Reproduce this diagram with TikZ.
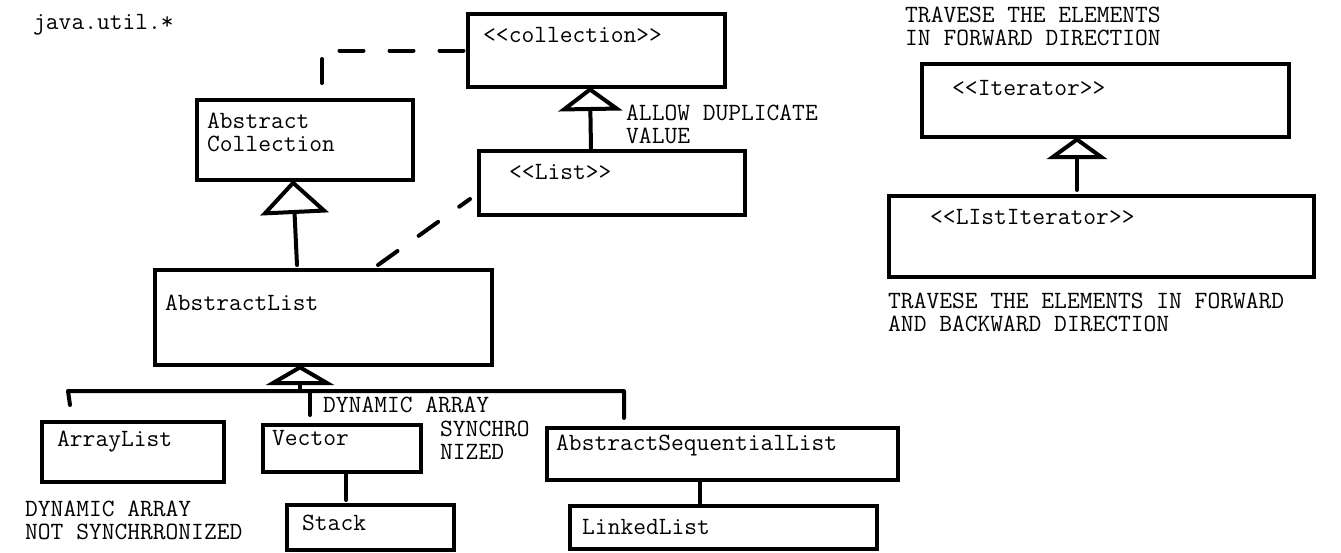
\documentclass[tikz,border=0pt]{standalone}
\usetikzlibrary{arrows.meta}
\usetikzlibrary{positioning}

\tikzset{
  box/.style={draw,line width=4pt,rectangle,inner sep=0pt,anchor=north west},
  txt/.style={anchor=west,inner sep=0pt,align=left,
    font=\ttfamily\fontsize{24.8}{23}\selectfont},
  link/.style={line width=4pt,line cap=round,line join=round},
  realize/.style={link,dash pattern=on 24pt off 26pt},
  inherit/.style 2 args={link,-{Triangle[open,length=#1,width=#2,line width=4pt]}}
}

\begin{document}
\begin{tikzpicture}[x=1pt,y=-1pt]
        \useasboundingbox (0,0) rectangle (1341,552);

        % boxes
        \node[box,minimum width=257pt,minimum height=73pt] (coll) at (466,12) {};
        \node[box,minimum width=216pt,minimum height=80pt] (abscoll) at (195,98) {};
        \node[box,minimum width=266pt,minimum height=64pt] (list) at (477,149) {};
        \node[box,minimum width=337pt,minimum height=95pt] (abslist) at (153,268) {};
        \node[box,minimum width=182pt,minimum height=60pt] (arrlist) at (40,420) {};
        \node[box,minimum width=158pt,minimum height=47pt] (vector) at (261,423) {};
        \node[box,minimum width=167pt,minimum height=45pt] (stack) at (285,503) {};
        \node[box,minimum width=351pt,minimum height=52pt] (absseq) at (545,426) {};
        \node[box,minimum width=307pt,minimum height=43pt] (linked) at (568,504) {};
        \node[box,minimum width=367pt,minimum height=73pt] (iter) at (920,62) {};
        \node[box,minimum width=425pt,minimum height=81pt] (listiter) at (887,194) {};

        % texts
        \node[txt] (pkg) at (33,25) {java.util.*};
        \node[txt] (tcoll) at (483,35) {<{}<collection>{}>};
        \node[txt] (tabscoll) at (207,132) {Abstract\\Collection};
        \node[txt] (tdup) at (626,124) {ALLOW DUPLICATE\\VALUE};
        \node[txt] (tlist) at (509,172) {<{}<List>{}>};
        \node[txt] (tabslist) at (165,303) {AbstractList};
        \node[txt] (tfwd) at (905,26) {TRAVESE THE ELEMENTS\\IN FORWARD DIRECTION};
        \node[txt] (titer) at (952,88) {<{}<Iterator>{}>};
        \node[txt] (tlistiter) at (930,217) {<{}<LIstIterator>{}>};
        \node[txt] (tboth) at (888,312) {TRAVESE THE ELEMENTS IN FORWARD\\AND BACKWARD DIRECTION};
        \node[txt] (tdynsync) at (323,405) {DYNAMIC ARRAY};
        \node[txt] (tsync) at (440,440) {SYNCHRO\\NIZED};
        \node[txt] (tarrlist) at (57,442) {ArrayList};
        \node[txt] (tvector) at (272,438) {Vector};
        \node[txt] (tabsseq) at (556,445) {AbstractSequentialList};
        \node[txt] (tdyn) at (25,520) {DYNAMIC ARRAY\\NOT SYNCHRRONIZED};
        \node[txt] (tstack) at (302,523) {Stack};
        \node[txt] (tlinked) at (582,527) {LinkedList};

        % dashed links
        \draw[realize] ([xshift=127pt,yshift=15pt]abscoll.north west) |- (coll.west);
        \draw[realize] ([xshift=225pt,yshift=3pt]abslist.north west) -- ([xshift=-7pt,yshift=-16pt]list.west);

        % inheritance
        \draw[inherit={24pt}{64pt}] ([xshift=114pt]list.north west) -- ([xshift=124pt,yshift=2pt]coll.south west);
        \draw[inherit={34pt}{68pt}] ([xshift=144pt,yshift=3pt]abslist.north west) -- ([xshift=98pt,yshift=2pt]abscoll.south west);
        \draw[inherit={22pt}{60pt}] ([xshift=190pt,yshift=4pt]listiter.north west) -- ([xshift=157pt,yshift=2pt]iter.south west);

        \coordinate (bus) at (300,391);
        \draw[inherit={20pt}{68pt}] (bus) -- ([xshift=147pt,yshift=2pt]abslist.south west);
        \draw[link] ([xshift=30pt,yshift=15pt]arrlist.north west) -- ++(-2,-14) -- ([xshift=79pt,yshift=35pt]absseq.north west)
          -- ([xshift=79pt,yshift=8pt]absseq.north west);
        \draw[link] ([xshift=49pt,yshift=8pt]vector.north west) -- ([xshift=49pt,yshift=32pt]vector.north west);

        \draw[link] ([xshift=85pt]vector.south west) -- ([xshift=61pt,yshift=3pt]stack.north west);
        \draw[link] ([xshift=155pt]absseq.south west) -- ([xshift=132pt,yshift=1pt]linked.north west);
      \end{tikzpicture}
\end{document}
